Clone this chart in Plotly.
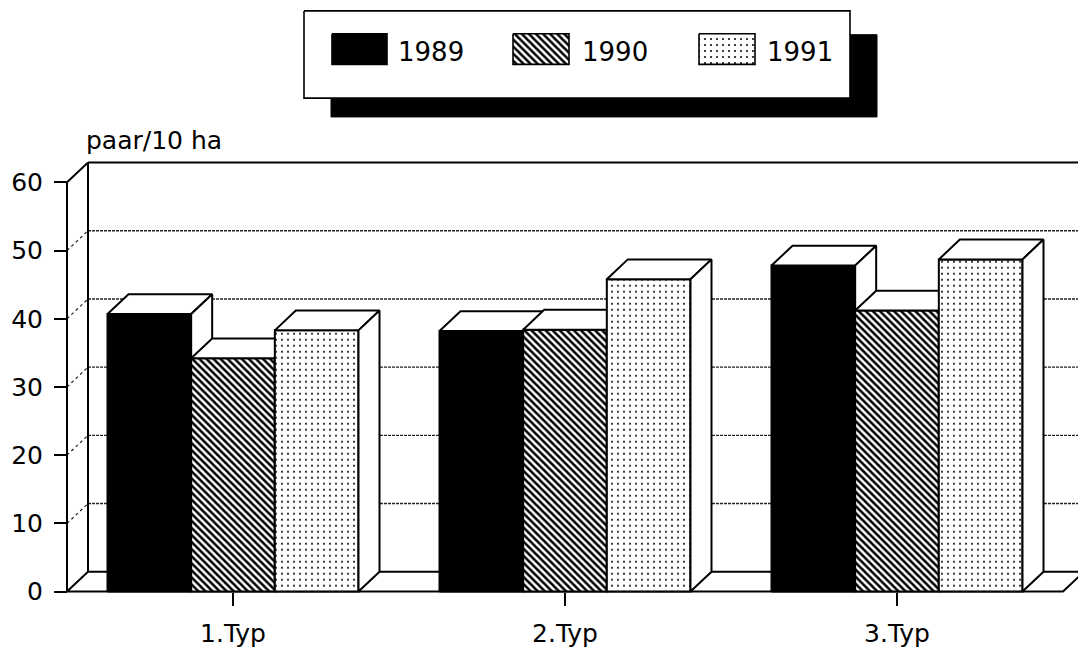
import plotly.graph_objects as go

# ---- data -------------------------------------------------------------
categories = ["1.Typ", "2.Typ", "3.Typ"]
years = ["1989", "1990", "1991"]
values_1989 = [40.7, 38.2, 47.8]
values_1990 = [34.2, 38.4, 41.2]
values_1991 = [38.3, 45.8, 48.7]
y_ticks = [0, 10, 20, 30, 40, 50, 60]
y_title = "paar/10 ha"

# ---- page geometry (pixels) ------------------------------------------
W, H = 1078, 661
PX_PER_CAT = 332.0      # horizontal distance between categories
PX_PER_UNIT = 6.883     # vertical pixels per value unit
X_FRONT_LEFT = 67       # pixel of x = -0.5 (front left edge)
Y_ZERO = 597            # pixel of y = 0 (front floor edge)
DEPTH_PX = (21, 20)     # oblique depth offset: right, up

DX = DEPTH_PX[0] / PX_PER_CAT
DY = DEPTH_PX[1] / PX_PER_UNIT
BAR_W = 0.252
X_MIN, X_MAX = -0.5, len(categories) - 0.5
Y_TOP = y_ticks[-1]

FONT = "DejaVu Sans"
LINE = "black"


def px_to_x(px):
    return X_MIN + (px - X_FRONT_LEFT) / PX_PER_CAT


def py_to_y(py):
    return (Y_ZERO - py) / PX_PER_UNIT


def pfrac_y(py):
    return (H - py) / H


# plot box in pixels
PLOT_L, PLOT_R, PLOT_T, PLOT_B = 57, W, 140, 606

fig = go.Figure()


def add_line(xs, ys, width=2.0, dash="solid", color=LINE, xaxis="x", yaxis="y"):
    fig.add_trace(go.Scatter(
        x=xs, y=ys, mode="lines", xaxis=xaxis, yaxis=yaxis,
        line=dict(color=color, width=width, dash=dash),
        hoverinfo="skip", showlegend=False))


def add_poly(xs, ys, fillcolor="white", pattern=None, width=2.0, xaxis="x", yaxis="y"):
    kw = {}
    if pattern is not None:
        kw["fillpattern"] = pattern
    fig.add_trace(go.Scatter(
        x=list(xs) + [xs[0]], y=list(ys) + [ys[0]], mode="lines",
        fill="toself", fillcolor=fillcolor, xaxis=xaxis, yaxis=yaxis,
        line=dict(color=LINE, width=width),
        hoverinfo="skip", showlegend=False, **kw))


# ---- back wall, floor and depth connectors ---------------------------
bx = X_MIN + DX
for v in y_ticks[1:-1]:
    add_line([bx, X_MAX + DX + 0.2], [v + DY, v + DY], width=1.4, dash="3px,1px", color="#222")
    add_line([X_MIN, bx], [v, v + DY], width=1.2, dash="dot", color="#222")
add_line([bx, X_MAX + DX + 0.2], [Y_TOP + DY, Y_TOP + DY], width=2)
add_line([X_MIN, bx], [Y_TOP, Y_TOP + DY], width=2)
add_line([bx, bx], [DY, Y_TOP + DY], width=2)
add_line([X_MIN, X_MIN], [0, Y_TOP], width=2)
# floor
add_line([X_MIN, bx, X_MAX + DX, X_MAX, X_MIN], [0, DY, DY, 0, 0], width=2)

# ---- bars as oblique boxes -------------------------------------------
series = [
    (years[0], values_1989, "black", None),
    (years[1], values_1990, "white",
     dict(shape="\\", size=5, solidity=0.5, fgcolor="black", bgcolor="white", fillmode="replace")),
    (years[2], values_1991, "white",
     dict(shape=".", size=6, solidity=0.1, fgcolor="#111", bgcolor="white", fillmode="replace")),
]
n_series = len(series)
for i, _cat in enumerate(categories):
    for j, (_name, vals, fcol, pat) in enumerate(series):
        v = vals[i]
        xc = i + (j - (n_series - 1) / 2) * BAR_W
        x0, x1 = xc - BAR_W / 2, xc + BAR_W / 2
        # front face
        add_poly([x0, x1, x1, x0], [0, 0, v, v], fillcolor=fcol, pattern=pat)
        # top face
        add_poly([x0, x1, x1 + DX, x0 + DX], [v, v, v + DY, v + DY])
        # right side face
        add_poly([x1, x1 + DX, x1 + DX, x1], [0, DY, v + DY, v])

# ---- legend drawn on a full-page overlay axis ------------------------
LEG = dict(box=(304, 850, 11, 99), shadow=(331, 877, 35, 118))
SW_Y = (34, 65)
SW_X = [(332, 387), (513, 569), (699, 755)]
TXT_X = [396, 580, 765]


def rect(b):
    l, r, t, btm = b
    return [l, r, r, l], [t, t, btm, btm]


xs, ys = rect(LEG["shadow"])
add_poly(xs, ys, fillcolor="black", width=1, xaxis="x2", yaxis="y2")
xs, ys = rect(LEG["box"])
add_poly(xs, ys, fillcolor="white", width=1.6, xaxis="x2", yaxis="y2")
for (l, r), (_name, _vals, fcol, pat) in zip(SW_X, series):
    xs, ys = rect((l, r, SW_Y[0], SW_Y[1]))
    add_poly(xs, ys, fillcolor=fcol, pattern=pat, width=1.6, xaxis="x2", yaxis="y2")

annotations = []
for tx, name in zip(TXT_X, years):
    annotations.append(dict(
        x=tx, y=(SW_Y[0] + SW_Y[1]) / 2 + 3, xref="x2", yref="y2",
        text=name, showarrow=False, xanchor="left", yanchor="middle",
        font=dict(family=FONT, size=26, color="black")))
annotations.append(dict(
    x=84 / W, y=pfrac_y(142), xref="paper", yref="paper",
    text=y_title, showarrow=False, xanchor="left", yanchor="middle",
    font=dict(family=FONT, size=25, color="black")))

fig.update_layout(
    width=W, height=H,
    margin=dict(l=0, r=0, t=0, b=0),
    paper_bgcolor="white", plot_bgcolor="rgba(0,0,0,0)",
    showlegend=False, hovermode=False,
    annotations=annotations,
    xaxis=dict(
        domain=[PLOT_L / W, PLOT_R / W],
        range=[px_to_x(PLOT_L), px_to_x(PLOT_R)],
        anchor="free", position=pfrac_y(Y_ZERO),
        tickmode="array", tickvals=list(range(len(categories))), ticktext=categories,
        ticks="outside", ticklen=13, tickwidth=2, tickcolor=LINE,
        ticklabelstandoff=6,
        showgrid=False, zeroline=False, showline=False,
        tickfont=dict(family=FONT, size=25, color="black"),
    ),
    yaxis=dict(
        domain=[pfrac_y(PLOT_B), pfrac_y(PLOT_T)],
        range=[py_to_y(PLOT_B), py_to_y(PLOT_T)],
        anchor="free", position=X_FRONT_LEFT / W,
        tickmode="array", tickvals=y_ticks,
        ticks="outside", ticklen=13, tickwidth=2, tickcolor=LINE,
        ticklabelstandoff=6,
        showgrid=False, zeroline=False, showline=False,
        tickfont=dict(family=FONT, size=25, color="black"),
    ),
    xaxis2=dict(domain=[0, 1], range=[0, W], anchor="y2", visible=False, fixedrange=True),
    yaxis2=dict(domain=[0, 1], range=[H, 0], anchor="x2", visible=False, fixedrange=True),
)

fig.write_html("out.html")
